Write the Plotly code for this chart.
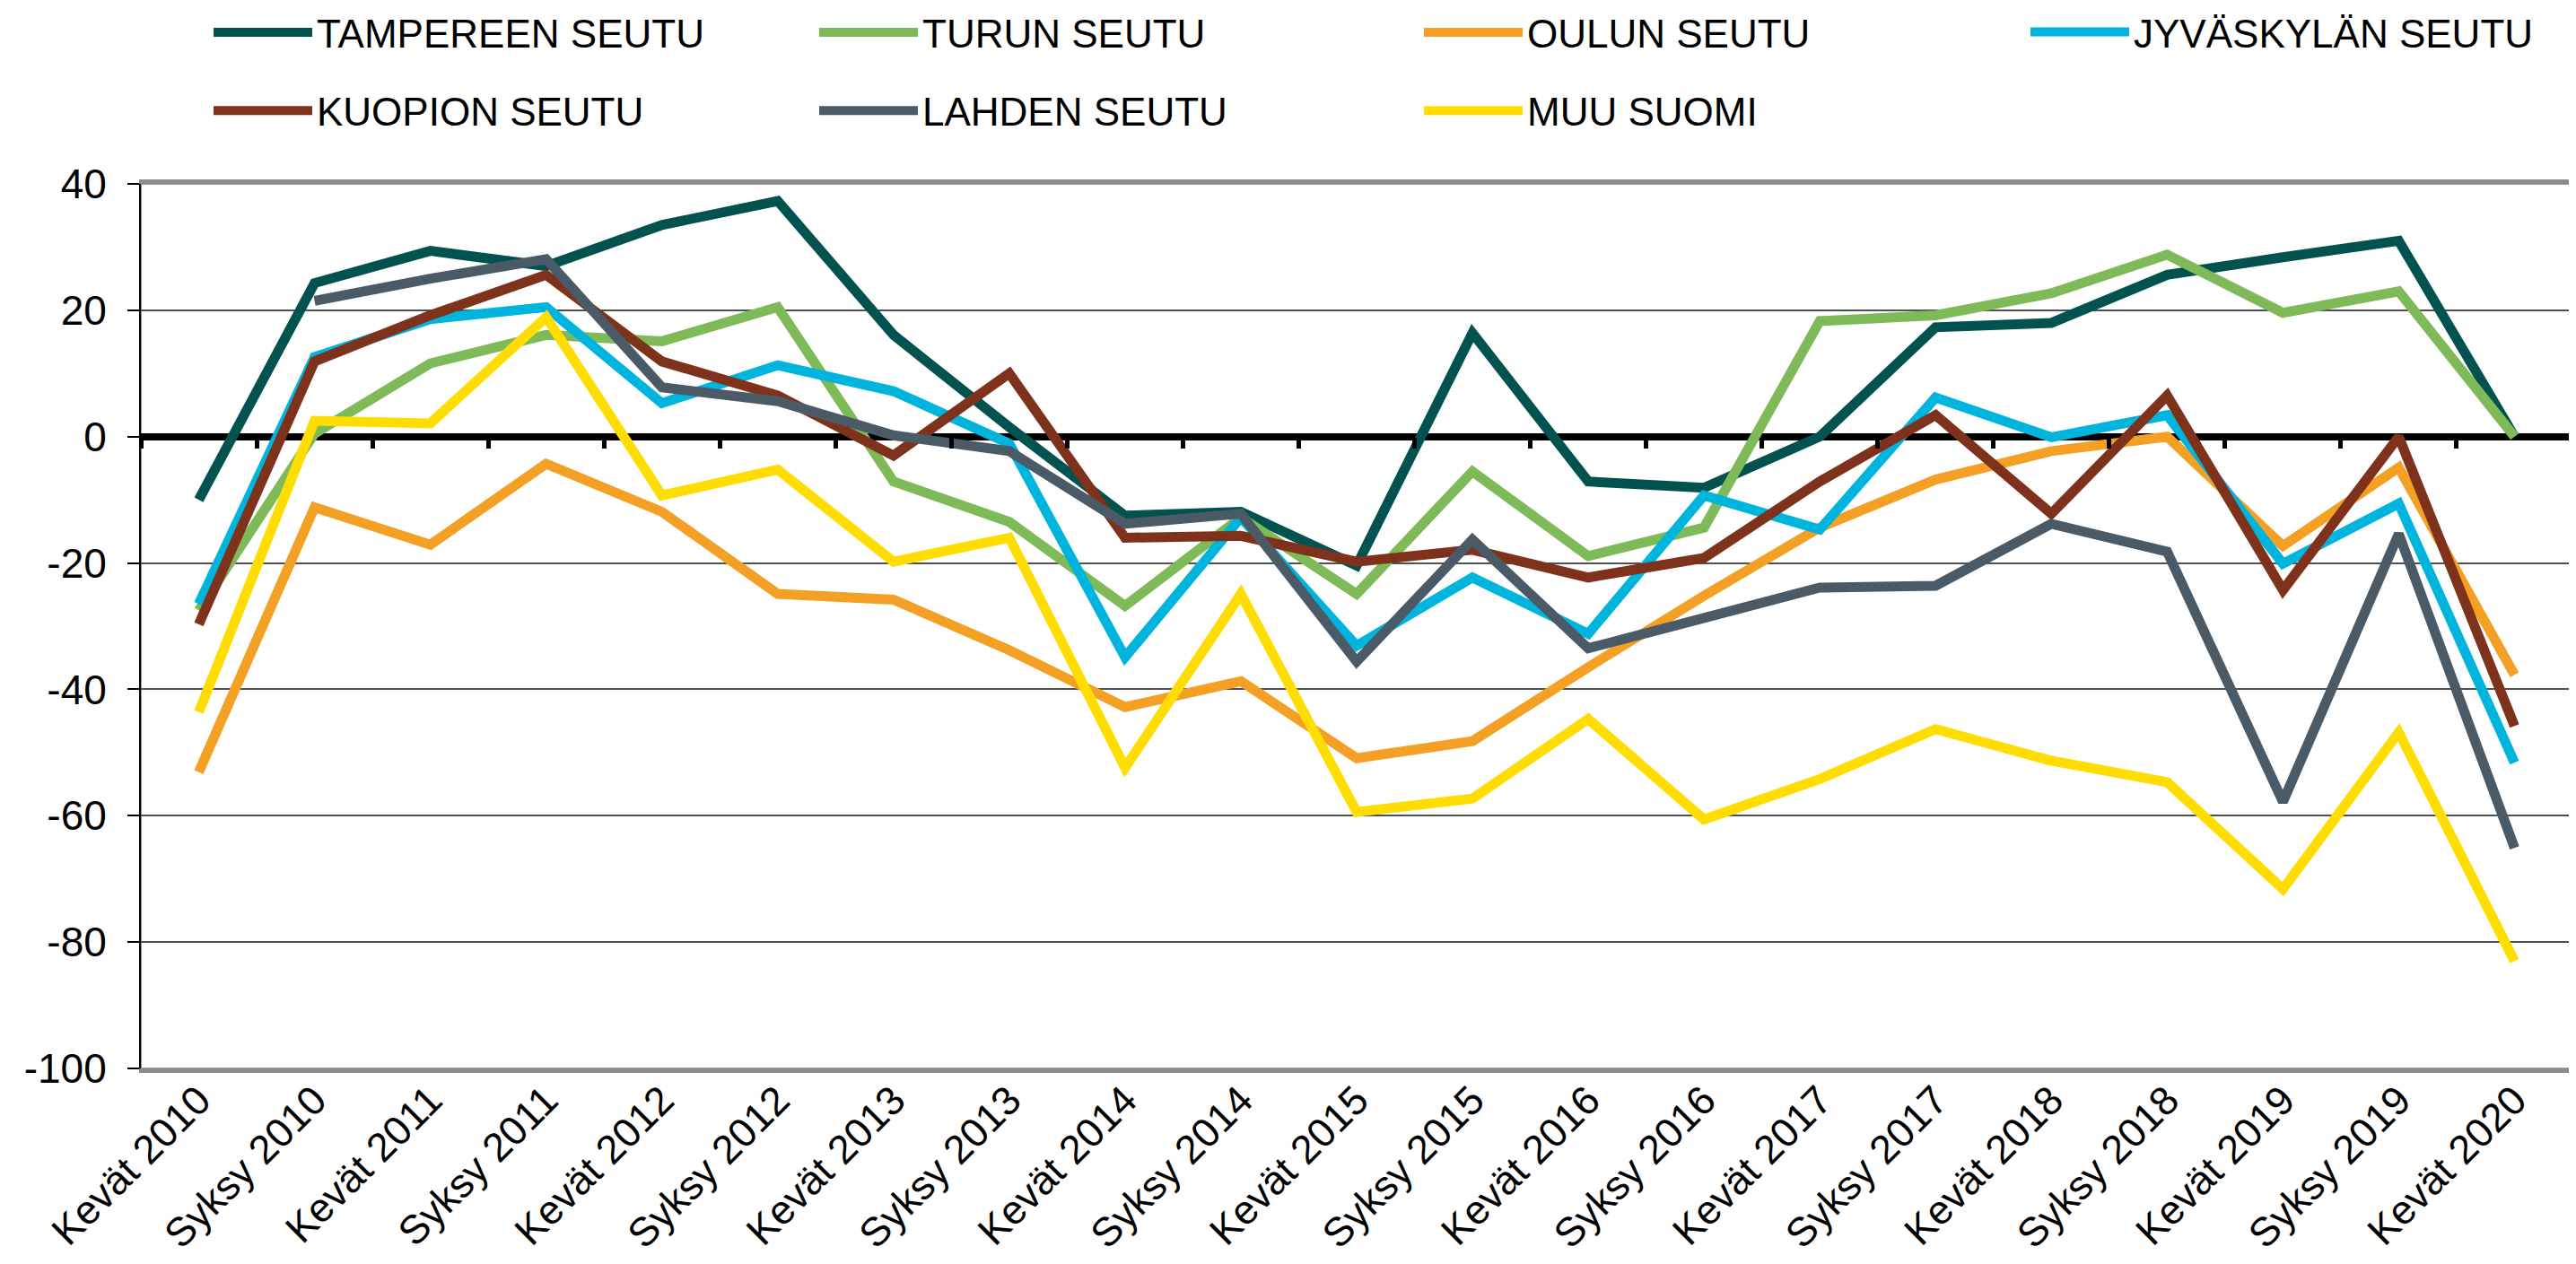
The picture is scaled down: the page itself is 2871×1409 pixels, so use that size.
import plotly.graph_objects as go

categories = ["Kevät 2010", "Syksy 2010", "Kevät 2011", "Syksy 2011", "Kevät 2012",
              "Syksy 2012", "Kevät 2013", "Syksy 2013", "Kevät 2014", "Syksy 2014",
              "Kevät 2015", "Syksy 2015", "Kevät 2016", "Syksy 2016", "Kevät 2017",
              "Syksy 2017", "Kevät 2018", "Syksy 2018", "Kevät 2019", "Syksy 2019",
              "Kevät 2020"]

y_tick_values = [40, 20, 0, -20, -40, -60, -80, -100]
y_tick_labels = ["40", "20", "0", "-20", "-40", "-60", "-80", "-100"]

tampere = [-10.0, 24.3, 29.4, 27.0, 33.5, 37.3, 16.1, 1.5, -12.5, -11.9, -20.4,
           16.4, -7.1, -8.1, 0.0, 17.3, 18.0, 25.6, 28.4, 31.0, 0.0]
turku = [-27.5, 0.5, 11.6, 16.1, 15.1, 20.5, -7.1, -13.5, -26.8, -12.8, -24.9,
         -5.5, -18.9, -14.4, 18.3, 19.2, 22.7, 28.8, 19.6, 23.0, 0.0]
oulu = [-53.1, -11.2, -17.1, -4.3, -11.9, -24.9, -25.8, -33.8, -42.8, -38.7, -50.9,
        -48.2, -36.5, -25.2, -14.4, -6.8, -2.3, 0.0, -17.3, -4.9, -37.7]
jyvaskyla = [-26.5, 12.6, 18.6, 20.5, 5.3, 11.3, 7.2, -1.1, -34.9, -12.8, -33.1,
             -22.3, -31.2, -9.3, -14.7, 6.2, -0.1, 3.4, -20.1, -10.6, -51.6]
kuopio = [-29.7, 11.9, 19.2, 25.6, 11.9, 6.5, -3.0, 10.0, -16.0, -15.7, -19.8,
          -17.9, -22.3, -19.2, -7.1, 3.4, -12.2, 6.5, -24.3, 0.0, -45.8]
lahti = [None, 21.5, 25.0, 28.1, 7.8, 5.6, 0.2, -2.3, -13.8, -12.2, -35.6,
         -16.3, -33.5, -28.7, -23.9, -23.6, -13.8, -18.2, -57.8, -15.4, -65.1]
muu = [-43.6, 2.5, 2.1, 18.9, -9.3, -5.2, -19.8, -16.0, -52.4, -24.9, -59.4,
       -57.3, -44.7, -60.6, -54.2, -46.3, -51.3, -54.7, -71.6, -46.8, -83.0]

# name, values, colour, legend column
series = [
    ("TAMPEREEN SEUTU", tampere, "#02524F", "legend"),
    ("TURUN SEUTU", turku, "#7FBA59", "legend2"),
    ("OULUN SEUTU", oulu, "#F4A024", "legend3"),
    ("JYVÄSKYLÄN SEUTU", jyvaskyla, "#00B5DD", "legend4"),
    ("KUOPION SEUTU", kuopio, "#7E321C", "legend"),
    ("LAHDEN SEUTU", lahti, "#4A5A67", "legend2"),
    ("MUU SUOMI", muu, "#FFDD00", "legend3"),
]

FONT = "Liberation Sans, Arial, sans-serif"

fig = go.Figure()
for name, vals, color, leg in series:
    fig.add_trace(go.Scatter(
        x=categories, y=vals, name=name, mode="lines",
        line=dict(color=color, width=11),
        legend=leg, legendgroup=name,
    ))

boundaries = [i - 0.5 for i in range(len(categories) + 1)]
# helper trace so that the boundary-tick axis at y=0 is drawn
fig.add_trace(go.Scatter(x=boundaries, y=[None] * len(boundaries), xaxis="x2",
                         mode="lines", showlegend=False, hoverinfo="skip"))

# the page adds an 8 px body margin, so the figure is 8 px smaller and shifted
PW = 2710
PH = 986
PLOT_LEFT = 157
PLOT_TOP = 205

legend_common = dict(
    orientation="v", xanchor="left", yanchor="middle",
    font=dict(size=44), bgcolor="rgba(0,0,0,0)",
    itemwidth=110, tracegroupgap=27,
)
col_x = [(233 - PLOT_LEFT) / PW, (908 - PLOT_LEFT) / PW,
         (1582 - PLOT_LEFT) / PW, (2258 - PLOT_LEFT) / PW]
mid_y = 1 + (PLOT_TOP - 80) / PH
row1_y = 1 + (PLOT_TOP - 36) / PH

fig.update_layout(
    width=2863, height=1401,
    paper_bgcolor="white", plot_bgcolor="white",
    margin=dict(l=149, r=4, t=197, b=218, autoexpand=False),
    font=dict(family=FONT, size=44, color="black"),
    showlegend=True,
    xaxis=dict(
        type="category", range=[-0.5, len(categories) - 0.5],
        tickangle=-45, ticks="", showgrid=False, automargin=False,
        showline=True, linecolor="#8c8c8c", linewidth=5, mirror=True,
        tickfont=dict(size=45), zeroline=False, ticklabelstandoff=-14,
    ),
    xaxis2=dict(
        overlaying="x", anchor="free", position=100 / 140,
        range=[-0.5, len(categories) - 0.5],
        tickvals=boundaries, showticklabels=False,
        ticks="outside", ticklen=12, tickwidth=5, tickcolor="black",
        showline=False, showgrid=False, zeroline=False, automargin=False,
    ),
    yaxis=dict(
        range=[-100, 40], tickvals=y_tick_values, ticktext=y_tick_labels,
        showgrid=True, gridcolor="#505050", gridwidth=2, automargin=False,
        zeroline=True, zerolinecolor="black", zerolinewidth=8,
        showline=True, linecolor="black", linewidth=2,
        ticks="outside", ticklen=13, tickwidth=2, tickcolor="black",
        ticklabelstandoff=14, tickfont=dict(size=46),
    ),
    legend=dict(legend_common, x=col_x[0], y=mid_y),
    legend2=dict(legend_common, x=col_x[1], y=mid_y),
    legend3=dict(legend_common, x=col_x[2], y=mid_y),
    legend4=dict(legend_common, x=col_x[3], y=row1_y),
    shapes=[dict(type="rect", xref="paper", yref="paper", x0=0, x1=1, y0=0, y1=1,
                 line=dict(color="#9a9a9a", width=2), layer="below")],
)

fig.write_html("out.html")
